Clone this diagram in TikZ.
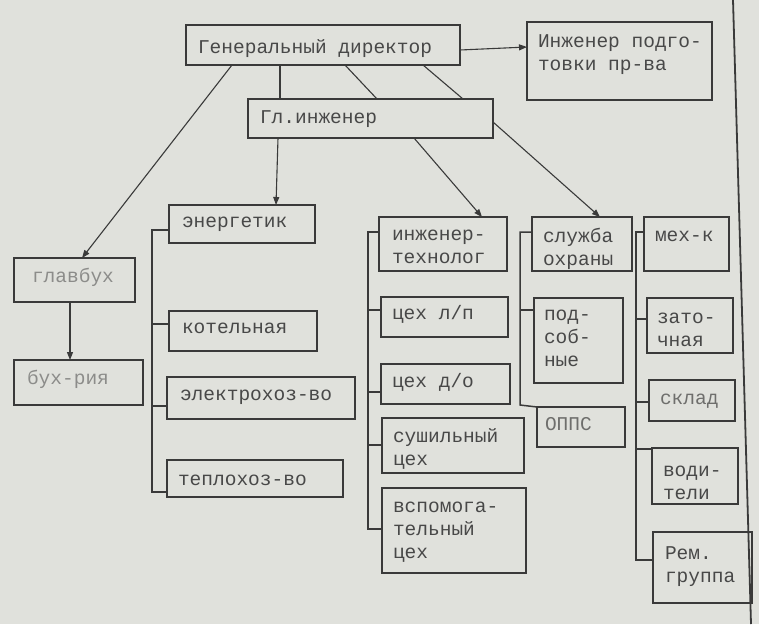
\documentclass[tikz,border=0pt]{standalone}
\usepackage{fontspec}
\setmonofont{Liberation Mono}
\usetikzlibrary{arrows.meta,calc}
\definecolor{bg}{RGB}{224,225,220}
\definecolor{ln}{RGB}{58,58,58}
\definecolor{tx}{RGB}{72,72,72}
\definecolor{lt}{RGB}{140,140,138}
\definecolor{md}{RGB}{110,110,108}
\tikzset{
  boxst/.style={draw=ln, line width=1.2pt, inner sep=0pt, outer sep=0pt},
  txtst/.style={font=\ttfamily\fontsize{19.5}{23}\selectfont, inner sep=0pt, outer sep=0pt, align=left},
  conn/.style={draw=ln, line width=1.1pt},
  arr/.style={conn, -{Triangle[width=6pt,length=8pt]}},
  brk/.style={draw=ln, line width=1.5pt}
}
% [text colour]{name}{x1}{y1}{x2}{y2}{xpad}{baseline offset}{text}
\newcommand\mybox[9][tx]{%
  \node[boxst, anchor=north west, minimum width={#5pt-#3pt}, minimum height={#6pt-#4pt}] (#2) at (#3,#4) {};
  \node[txtst, text=#1, anchor=north west] (#2t) at ($(#2.north west)+(#7,#8-16)$) {\rule{0pt}{16pt}#9};
}
\begin{document}
\begin{tikzpicture}[x=1pt,y=-1pt]
\fill[bg] (0,0) rectangle (759,624);
\useasboundingbox (0,0) rectangle (759,624);

% boxes
\mybox{gd}{186}{25}{460}{65}{12}{28}{Генеральный директор}
\mybox{gi}{248}{99}{493}{138}{12}{24}{Гл.инженер}
\mybox{ipp}{527}{22}{712}{100}{11}{25}{Инженер подго-\\товки пр-ва}
\mybox[lt]{glb}{14}{258}{135}{302}{18}{24}{главбух}
\mybox[lt]{bux}{14}{360}{143}{405}{13}{24}{бух-рия}
\mybox{en}{169}{205}{315}{243}{13}{22}{энергетик}
\mybox{kot}{169}{311}{317}{351}{13}{22}{котельная}
\mybox{el}{167}{377}{355}{419}{13}{23}{электрохоз-во}
\mybox{tep}{167}{460}{343}{497}{11}{25}{теплохоз-во}
\mybox{it}{379}{217}{507}{271}{13}{23}{инженер-\\технолог}
\mybox{lp}{381}{297}{508}{337}{11}{22}{цех л/п}
\mybox{do}{381}{364}{510}{404}{11}{23}{цех д/о}
\mybox{sush}{382}{418}{524}{473}{11}{24}{сушильный\\цех}
\mybox{vsp}{382}{488}{526}{573}{11}{24}{вспомога-\\тельный\\цех}
\mybox{so}{532}{217}{632}{271}{11}{25}{служба\\охраны}
\mybox{pod}{534}{298}{623}{383}{10}{22}{под-\\соб-\\ные}
\mybox[md]{op}{537}{407}{625}{447}{8}{23}{ОППС}
\mybox{mk}{644}{217}{729}{271}{11}{24}{мех-к}
\mybox{zat}{647}{298}{733}{353}{10}{25}{зато-\\чная}
\mybox[md]{skl}{649}{380}{735}{421}{11}{24}{склад}
\mybox{vod}{652}{448}{738}{504}{11}{28}{води-\\тели}
\mybox{rem}{653}{532}{752}{603}{12}{27}{Рем.\\группа}

% connectors from the director
\draw[arr] ($(gd.south west)+(46,0)$) -- ($(glb.north west)+(68,0)$);
\draw[arr] ($(glb.south west)+(56,0)$) -- ($(bux.north west)+(56,0)$);
\draw[arr] (gd.east |- 0,50) -- (ipp.west |- 0,47);
\draw[conn] ($(gd.south west)+(94,0)$) -- ($(gi.north west)+(32,0)$);
\draw[conn] ($(gd.south west)+(159,0)$) -- ($(gi.north west)+(129,0)$);
\draw[conn] ($(gd.south west)+(237,0)$) -- ($(gi.north west)+(215,0)$);
% from the chief engineer
\draw[arr] ($(gi.south west)+(30,0)$) -- ($(en.north west)+(107,0)$);
\draw[arr] ($(gi.south west)+(166,0)$) -- ($(it.north west)+(103,0)$);
\draw[arr] ($(gi.north east)+(0,23)$) -- ($(so.north west)+(68,0)$);

% brackets
\draw[brk] (en.west |- 0,230) -| (152,492) -- (tep.west |- 0,492);
\draw[brk] (152,324) -- (kot.west |- 0,324);
\draw[brk] (152,406) -- (el.west |- 0,406);

\draw[brk] (it.west |- 0,232) -| (368,529) -- (vsp.west |- 0,529);
\draw[brk] (368,310) -- (lp.west |- 0,310);
\draw[brk] (368,392) -- (do.west |- 0,392);
\draw[brk] (368,445) -- (sush.west |- 0,445);

\draw[brk] (so.west |- 0,232) -| (520,405) -- (op.north west);
\draw[brk] (520,310) -- (pod.west |- 0,310);

\draw[brk] (mk.west |- 0,232) -| (636,560) -- (rem.west |- 0,560);
\draw[brk] (636,319) -- (zat.west |- 0,319);
\draw[brk] (636,402) -- (skl.west |- 0,402);
\draw[brk] (636,449) -- (vod.west |- 0,449);

% right page edge line
\draw[ln, line width=1.8pt] (733,0) -- (751,624);
\end{tikzpicture}
\end{document}
